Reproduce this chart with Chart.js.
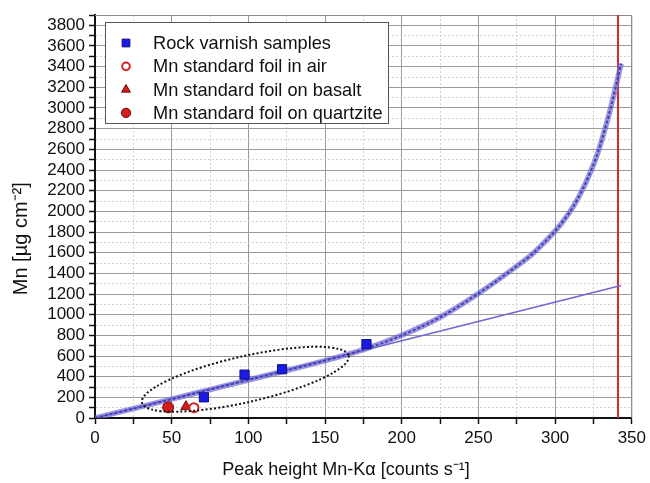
<!DOCTYPE html>
<html>
<head>
<meta charset="utf-8">
<script src="https://cdn.jsdelivr.net/npm/chart.js@4.4.1/dist/chart.umd.min.js"></script>
<style>
  body { margin: 0; background: #fff; }
  #wrap { width: 650px; height: 483px; }
</style>
</head>
<body>
<div id="wrap"><canvas id="myChart" width="650" height="483"></canvas></div>
<script>
// rock varnish samples
const varnishX = [71, 97.5, 122, 177];
const varnishY = [200, 420, 472, 715];
// Mn standard foil
const airX = [64.5];
const airY = [100];
const basaltX = [59.3];
const basaltY = [110];
const quartziteX = [47.7];
const quartziteY = [103];
// calibration curve
const curveX = [0, 25, 50, 75, 100, 125, 150, 175, 200, 225, 250, 275, 285, 293, 300, 306, 312, 318, 323, 327, 331, 335, 339, 343];
const curveY = [0, 90, 182, 275, 368, 460, 555, 662, 800, 975, 1205, 1470, 1585, 1700, 1810, 1920, 2050, 2215, 2380, 2530, 2720, 2930, 3170, 3430];
// linear line
const lineX = [0, 343];
const lineY = [0, 1282];
// saturation limit
const limitX = [341, 341];
const limitY = [0, 3900];

const legendNames = ['Rock varnish samples', 'Mn standard foil in air', 'Mn standard foil on basalt', 'Mn standard foil on quartzite'];

function pts(xs, ys) {
    return xs.map((x, i) => ({ x: x, y: ys[i] }));
}

const FONT = "'Liberation Sans', Arial, sans-serif";

// dotted ellipse round the low-value points
const ellipse = { cx: 98, cy: 375, rx: 106, ry: 23, angle: -12.8 };

const extras = {
    id: 'extras',
    beforeDatasetsDraw(chart) {
        const { ctx, chartArea } = chart;
        ctx.save();
        ctx.strokeStyle = '#8a8a8a';
        ctx.lineWidth = 1;
        ctx.beginPath();
        ctx.moveTo(chartArea.left, chartArea.top + 0.5);
        ctx.lineTo(chartArea.right, chartArea.top + 0.5);
        ctx.lineTo(chartArea.right, chartArea.bottom);
        ctx.stroke();
        ctx.restore();
    },
    afterDatasetsDraw(chart) {
        const { ctx } = chart;
        const xs = chart.scales.x, ys = chart.scales.y;
        ctx.save();
        ctx.strokeStyle = '#111';
        ctx.lineWidth = 2;
        ctx.setLineDash([2, 2.2]);
        ctx.beginPath();
        ctx.ellipse(xs.getPixelForValue(ellipse.cx), ys.getPixelForValue(ellipse.cy),
            ellipse.rx, ellipse.ry, ellipse.angle * Math.PI / 180, 0, Math.PI * 2);
        ctx.stroke();
        ctx.restore();
    },
    afterDraw(chart) {
        // legend box
        const { ctx } = chart;
        ctx.save();
        ctx.fillStyle = '#fff';
        ctx.fillRect(105, 22, 283, 101);
        ctx.strokeStyle = '#555';
        ctx.lineWidth = 1;
        ctx.strokeRect(105.5, 22.5, 283, 101);
        const sets = chart.data.datasets;
        for (let i = 0; i < 4; i++) {
            const ds = sets[i];
            const y = 43 + i * 23.3;
            ctx.fillStyle = ds.backgroundColor;
            ctx.strokeStyle = ds.borderColor;
            ctx.lineWidth = ds.borderWidth;
            Chart.helpers.drawPoint(ctx, {
                pointStyle: ds.pointStyle,
                radius: ds.pointStyle == 'rect' ? 5.5 : ds.pointRadius * 0.85,
                borderWidth: ds.borderWidth,
                rotation: 0
            }, 126, y);
            ctx.fillStyle = '#111';
            ctx.font = '18.2px ' + FONT;
            ctx.textBaseline = 'middle';
            ctx.textAlign = 'left';
            ctx.fillText(legendNames[i], 153, y + 1);
        }
        ctx.restore();
    }
};

let ctx = document.getElementById('myChart');
new Chart(ctx, {
    type: 'scatter',
    data: {
        datasets: [{
            label: legendNames[0],
            data: pts(varnishX, varnishY),
            pointStyle: 'rect',
            pointRadius: 6.5,
            backgroundColor: '#1a1ae8',
            borderColor: '#12127a',
            borderWidth: 1
        },
        {
            label: legendNames[1],
            data: pts(airX, airY),
            pointStyle: 'circle',
            pointRadius: 4.5,
            backgroundColor: '#ffffff',
            borderColor: '#d42020',
            borderWidth: 2
        },
        {
            label: legendNames[2],
            data: pts(basaltX, basaltY),
            pointStyle: 'triangle',
            pointRadius: 6,
            backgroundColor: '#d41c1c',
            borderColor: '#6a1010',
            borderWidth: 1
        },
        {
            label: legendNames[3],
            data: pts(quartziteX, quartziteY),
            pointStyle: 'circle',
            pointRadius: 5.5,
            backgroundColor: '#d41c1c',
            borderColor: '#6a1010',
            borderWidth: 1
        },
        {
            label: 'curve core',
            data: pts(curveX, curveY),
            showLine: true,
            pointRadius: 0,
            borderColor: '#4540ac',
            borderWidth: 2,
            borderDash: [3, 2],
            cubicInterpolationMode: 'monotone'
        },
        {
            label: 'curve',
            data: pts(curveX, curveY),
            showLine: true,
            pointRadius: 0,
            borderColor: 'rgba(112, 106, 212, 0.7)',
            borderWidth: 5.5,
            cubicInterpolationMode: 'monotone'
        },
        {
            label: 'linear',
            data: pts(lineX, lineY),
            showLine: true,
            pointRadius: 0,
            borderColor: '#6f66d2',
            borderWidth: 1.5
        },
        {
            label: 'limit',
            data: pts(limitX, limitY),
            showLine: true,
            pointRadius: 0,
            borderColor: '#d42a2a',
            borderWidth: 2
        }]
    },
    options: {
        responsive: false,
        animation: false,
        layout: { padding: { top: 15, right: 12.5, left: 0, bottom: 0 } },
        plugins: {
            legend: { display: false },
            tooltip: { enabled: false }
        },
        scales: {
            x: {
                type: 'linear',
                min: 0,
                max: 350,
                afterFit: (scale) => { scale.height = 65; },
                ticks: {
                    stepSize: 25,
                    autoSkip: false,
                    maxRotation: 0,
                    maxTicksLimit: 100,
                    padding: 4,
                    color: '#111',
                    font: { family: FONT, size: 17 },
                    callback: (v) => (v % 50 === 0 ? v : '')
                },
                grid: {
                    color: (c) => (c.tick && c.tick.value % 50 === 0 ? '#9a9a9a' : '#d2d2d2'),
                    lineWidth: 1,
                    tickColor: '#111',
                    tickLength: 6,
                    tickWidth: 1.5
                },
                border: {
                    color: '#111',
                    width: 2,
                    dash: (c) => (c.tick && c.tick.value % 50 !== 0 ? [2, 2] : [])
                },
                title: {
                    display: true,
                    text: 'Peak height Mn-K\u03b1 [counts s\u207b\u00b9]' + '       ',
                    color: '#111',
                    font: { family: FONT, size: 18 },
                    padding: { top: 0, bottom: 2 }
                }
            },
            y: {
                type: 'linear',
                min: 0,
                max: 3900,
                afterFit: (scale) => { scale.width = 95; },
                ticks: {
                    stepSize: 100,
                    autoSkip: false,
                    maxTicksLimit: 100,
                    padding: 4,
                    color: '#111',
                    font: { family: FONT, size: 17 },
                    callback: (v) => (v % 200 === 0 ? v : '')
                },
                grid: {
                    color: (c) => (c.tick && c.tick.value % 200 === 0 ? '#9a9a9a' : '#d2d2d2'),
                    lineWidth: 1,
                    tickColor: '#111',
                    tickLength: 6,
                    tickWidth: 1.5
                },
                border: {
                    color: '#111',
                    width: 2,
                    dash: (c) => (c.tick && c.tick.value % 200 !== 0 ? [2, 2] : [])
                },
                title: {
                    display: true,
                    text: 'Mn [\u00b5g cm\u207b\u00b2]' + '        ',
                    color: '#111',
                    font: { family: FONT, size: 20 },
                    padding: { top: 9, bottom: 0 }
                }
            }
        }
    },
    plugins: [extras]
});
</script>
</body>
</html>
